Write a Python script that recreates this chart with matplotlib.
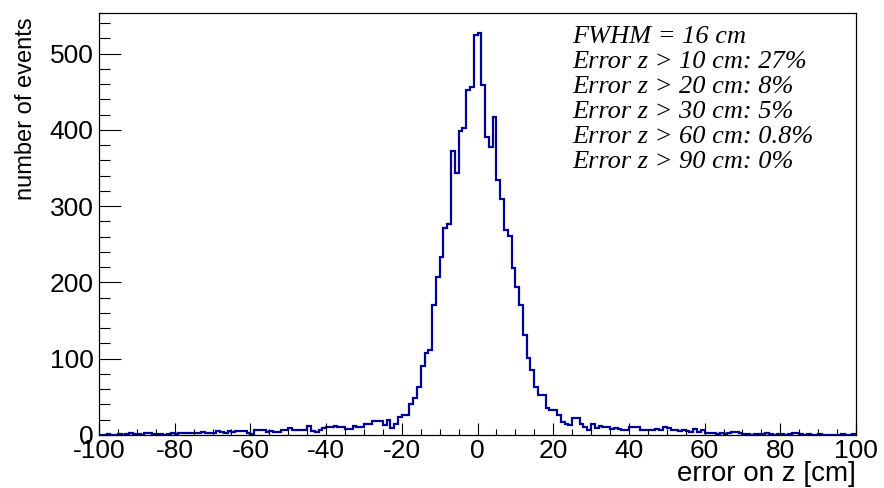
import numpy as np
import matplotlib
matplotlib.use("Agg")
import matplotlib.pyplot as plt
from matplotlib.ticker import MultipleLocator

plt.rcParams["axes.unicode_minus"] = False

# bin edges: 1 cm bins from -100 to 100
bin_edges = np.arange(-100, 101, 1)

# counts for bins -100 ... -1
counts_neg = [
    0, 0, 1, 0, 0, 1, 0, 1, 2, 1,            # -100 .. -91
    1, 0, 2, 2, 1, 1, 1, 0, 1, 2,            # -90 .. -81
    1, 3, 3, 2, 3, 2, 3, 4, 3, 2,            # -80 .. -71
    3, 5, 4, 3, 5, 4, 5,                     # -70 .. -64
    5, 5, 2, 1, 7, 7, 7, 4, 5, 4,            # -63 .. -54
    4, 7, 7, 9, 7, 6, 6, 6, 12, 5,           # -53 .. -44
    4, 7, 9, 11, 11, 12, 10, 10, 8, 8,       # -43 .. -34
    12, 10, 10, 14, 14, 18, 18,              # -33 .. -27
    18, 13, 20, 9, 15, 23, 26, 26, 41, 48,   # -26 .. -17
    63, 91, 107, 111, 170, 207, 233, 272, 277, 372,  # -16 .. -7
    343, 399, 403, 453, 456, 524,            # -6 .. -1
]
# counts for bins 0 ... 99
counts_pos = [
    527, 459, 391, 378, 417, 335, 309, 269, 261, 219,  # 0 .. 9
    194, 170, 131, 101, 85, 63, 52, 52, 35, 33,        # 10 .. 19
    33, 26, 17, 15, 13, 22,                            # 20 .. 25
    22, 14, 11, 6, 15, 9, 12, 10, 11, 8,               # 26 .. 35
    9, 8, 7, 7, 10, 10, 10, 7, 6, 7,                   # 36 .. 45
    7, 8, 6, 11, 9, 7, 6, 5, 7, 5,                     # 46 .. 55
    4, 8, 4, 6, 3, 2, 3,                               # 56 .. 62
    1, 2, 1, 3, 4, 4, 3, 1, 1, 0,                      # 63 .. 72
    1, 1, 1, 2, 1, 0, 1, 1, 0, 1,                      # 73 .. 82
    2, 2, 1, 0, 1, 0, 0, 1, 0, 0,                      # 83 .. 92
    0, 0, 0, 1, 0, 0, 1,                               # 93 .. 99
]
counts = np.array(counts_neg + counts_pos, dtype=float)

stats_lines = [
    "FWHM = 16 cm",
    "Error z > 10 cm: 27%",
    "Error z > 20 cm: 8%",
    "Error z > 30 cm: 5%",
    "Error z > 60 cm: 0.8%",
    "Error z > 90 cm: 0%",
]

W, H = 884, 488
fig = plt.figure(figsize=(W / 100, H / 100), dpi=100)
ax_l, ax_r, ax_t, ax_b = 99, 856, 13, 435
ax = fig.add_axes([ax_l / W, (H - ax_b) / H, (ax_r - ax_l) / W, (ax_b - ax_t) / H])

ax.stairs(counts, bin_edges, color="#000099", lw=1.6, baseline=None)

ax.set_xlim(-100, 100)
ax.set_ylim(0, 1.05 * counts.max())

ax.xaxis.set_major_locator(MultipleLocator(20))
ax.xaxis.set_minor_locator(MultipleLocator(5))
ax.yaxis.set_major_locator(MultipleLocator(100))
ax.yaxis.set_minor_locator(MultipleLocator(20))

tickfont = "Liberation Sans"
ax.xaxis.set_tick_params(which="major", direction="in", length=8.6, width=0.8, pad=3,
                         labelsize=19, top=False)
ax.xaxis.set_tick_params(which="minor", direction="in", length=4.3, width=0.8, top=False)
ax.yaxis.set_tick_params(which="major", direction="in", length=15.5, width=0.8, pad=4,
                         labelsize=19, right=False)
ax.yaxis.set_tick_params(which="minor", direction="in", length=7.8, width=0.8, right=False)
for lab in ax.get_xticklabels() + ax.get_yticklabels():
    lab.set_fontfamily(tickfont)

for s in ax.spines.values():
    s.set_linewidth(0.9)
    s.set_color("black")

xl = ax.set_xlabel("error on z [cm]", fontsize=20, family=tickfont, ha="right", va="center")
ax.xaxis.set_label_coords(1.0, -0.093)
yl = ax.set_ylabel("number of events", fontsize=17, family=tickfont, ha="right", va="center")
ax.yaxis.set_label_coords(-0.097, 0.99)

y0 = 37
for i, line in enumerate(stats_lines):
    fig.text(572 / W, 1 - (y0 + 25 * i) / H, line, fontsize=19,
             family="Liberation Serif", style="italic", ha="left", va="center")

fig.savefig("out.png", dpi=100)
